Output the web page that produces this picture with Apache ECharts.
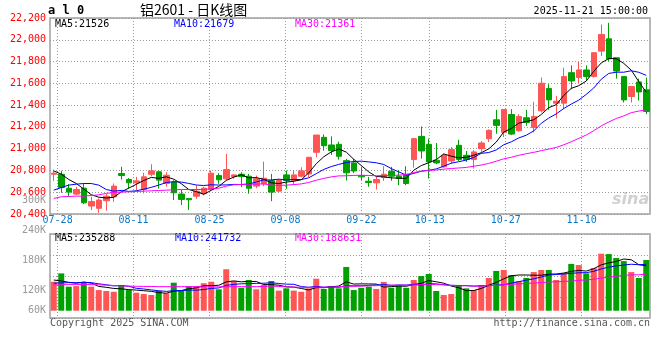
<!DOCTYPE html>
<html><head><meta charset="utf-8">
<script src="https://cdn.jsdelivr.net/npm/echarts@6/dist/echarts.min.js"></script>
<style>html,body{margin:0;padding:0;background:#fff}#c{width:660px;height:360px}</style>
</head><body><div id="c"></div>
<script>
const dates = ['07-25','07-28','07-29','07-30','07-31','08-01','08-04','08-05','08-06','08-07','08-08','08-11','08-12','08-13','08-14','08-15','08-18','08-19','08-20','08-21','08-22','08-25','08-26','08-27','08-28','08-29','09-01','09-02','09-03','09-04','09-05','09-08','09-09','09-10','09-11','09-12','09-15','09-16','09-17','09-18','09-19','09-22','09-23','09-24','09-25','09-26','09-29','09-30','10-09','10-10','10-13','10-14','10-15','10-16','10-17','10-20','10-21','10-22','10-23','10-24','10-27','10-28','10-29','10-30','10-31','11-03','11-04','11-05','11-06','11-07','11-10','11-11','11-12','11-13','11-14','11-17','11-18','11-19','11-20','11-21'];
const labelDates = ['07-28','08-11','08-25','09-08','09-22','10-13','10-27','11-10'];

const opens  = [20765,20765,20637,20583,20637,20473,20452,20522,20558,20772,20717,20686,20625,20765,20787,20680,20695,20583,20543,20564,20586,20625,20753,20723,20744,20765,20747,20656,20677,20707,20610,20759,20707,20747,20768,20967,21104,21034,21040,20890,20869,20753,20701,20686,20735,20793,20747,20765,20900,21113,21040,20894,20833,20887,21031,20939,20900,21000,21091,21265,21150,21314,21165,21284,21195,21348,21552,21418,21418,21698,21653,21723,21662,21896,22009,21835,21662,21479,21613,21540];
const closes = [20775,20643,20601,20625,20503,20515,20528,20564,20656,20753,20686,20704,20741,20796,20711,20756,20595,20534,20531,20610,20637,20775,20714,20808,20759,20744,20637,20723,20729,20601,20707,20707,20759,20796,20921,21125,21027,20982,20930,20778,20795,20741,20689,20717,20765,20747,20726,20680,21092,20979,20878,20869,20939,20991,20900,20900,20970,21052,21168,21214,21360,21134,21296,21241,21296,21601,21448,21436,21662,21622,21723,21662,21881,22049,21826,21713,21448,21570,21521,21342];
const lows   = [20704,20595,20564,20573,20491,20436,20412,20430,20512,20717,20634,20619,20589,20747,20634,20650,20528,20482,20436,20540,20570,20616,20677,20708,20723,20647,20586,20637,20656,20518,20601,20631,20668,20738,20738,20921,20982,20942,20900,20708,20775,20711,20650,20625,20705,20705,20665,20665,20826,20909,20726,20857,20826,20863,20887,20878,20817,20970,21061,21137,21107,21125,21156,21210,21150,21332,21357,21278,21363,21546,21601,21622,21653,21851,21805,21643,21424,21424,21442,21317];
const highs  = [20808,20796,20674,20650,20680,20558,20543,20583,20680,20833,20730,20741,20778,20857,20796,20784,20710,20620,20543,20665,20650,20799,20775,20951,20765,20783,20768,20753,20881,20768,20723,20799,20799,20829,20921,21125,21131,21113,21064,20906,20906,20833,20741,20741,20839,20833,20802,20839,21092,21204,21092,21052,20954,21015,21082,20979,20985,21070,21177,21357,21360,21363,21317,21357,21430,21653,21592,21485,21744,21765,21796,21765,21887,22140,22155,21835,21662,21570,21643,21653];
const volumes = [153,197,127,130,148,127,109,104,100,136,109,95,88,83,104,92,148,104,130,130,145,153,113,219,157,121,162,113,136,157,106,118,106,100,118,169,115,130,118,231,109,121,127,115,152,121,136,121,162,183,194,104,83,88,136,118,109,136,173,210,215,188,157,173,204,215,215,162,199,247,241,197,225,301,299,278,262,204,173,268];

// moving-average values for the days before enough history is on screen
const ma5Head  = [20796,20766,20717,20680];
const ma10Head = [20619,20643,20665,20674,20680,20680,20665,20625,20610];
const ma30Head = [20543,20558,20561,20564,20564,20570,20576,20589,20598,20601,20604,20607,20610,20613,20616,20619,20622,20625,20625,20625,20625,20631,20637,20656,20668,20671,20674,20674,20677];
const volMa5Head  = [162,157,150,145];
const volMa10Head = [145,147,148,148,150,148,142,137,131];
const volMa30Head = [136,137,138,138,139,138,137,135,133,131,130,129,128,128,127,127,127,127,127,127,126,126,126,126,127,127,127,127,128];

const mainYTicks = [20400,22200,200];
const volTickLabels = ['300K','240K','180K','120K','60K'];
const volTickValues = [300,240,180,120,81];

const titleCode = 'a l 0';
const titleText = '铝2601 - 日K线图';
const stamp = '2025-11-21 15:00:00';
const mainLegend = ['MA5:21526','MA10:21679','MA30:21361'];
const volLegend = ['MA5:235288','MA10:241732','MA30:188631'];
const footLeft = 'Copyright 2025 SINA.COM';
const footRight = 'http://finance.sina.com.cn';

const RED = '#ff5555', GREEN = '#00a000';
const MA_COLORS = ['#000000','#0000ff','#ff00ff'];
const MONO = "'DejaVu Sans Mono', monospace";

function ma(vals, n, head) {
  return vals.map((v, i) => {
    if (i < n - 1) return head[i];
    let s = 0; for (let k = i - n + 1; k <= i; k++) s += vals[k];
    return +(s / n).toFixed(1);
  });
}

const candleData = opens.map((o, i) => [o, closes[i], lows[i], highs[i]]);
const upFlags = opens.map((o, i) => closes[i] >= o);

const chart = echarts.init(document.getElementById('c'), null, {renderer: 'canvas'});
const dotted = {type: [1, 2], color: '#9a9a9a', width: 1};
const isLabelDate = (idx, val) => labelDates.indexOf(val) >= 0;

const option = {
  animation: false,
  backgroundColor: '#ffffff',
  grid: [
    {left: 50, right: 10, top: 18, height: 196, show: true, borderColor: '#a0a0a0', borderWidth: 1.5},
    {left: 50, right: 10, top: 234, height: 84, show: true, borderColor: '#a0a0a0', borderWidth: 1.5},
    {left: 50, right: 10, top: 190, height: 130, show: false}
  ],
  xAxis: [
    {type: 'category', gridIndex: 0, data: dates, boundaryGap: true, show: false, position: 'bottom'},
    {type: 'category', gridIndex: 0, data: dates, boundaryGap: false, position: 'bottom', axisLine: {show: false}, axisTick: {show: false},
      axisLabel: {show: true, interval: isLabelDate, color: '#0a78c8', fontFamily: MONO, fontSize: 10, margin: 1},
      splitLine: {show: true, interval: isLabelDate, lineStyle: dotted}},
    {type: 'category', gridIndex: 1, data: dates, boundaryGap: true, show: false, position: 'bottom'},
    {type: 'category', gridIndex: 1, data: dates, boundaryGap: false, position: 'bottom', axisLine: {show: false}, axisTick: {show: false}, axisLabel: {show: false},
      splitLine: {show: true, interval: isLabelDate, lineStyle: dotted}},
    {type: 'category', gridIndex: 2, data: dates, show: false}
  ],
  yAxis: [
    {type: 'value', gridIndex: 0, min: mainYTicks[0], max: mainYTicks[1], interval: mainYTicks[2],
      axisLine: {show: false}, axisTick: {show: false},
      axisLabel: {color: '#ff0000', fontFamily: MONO, fontSize: 10, margin: 4, padding: [0, 0, 3, 0]},
      splitLine: {show: true, lineStyle: dotted}},
    {type: 'value', gridIndex: 1, min: -38.5, max: 405, show: false},
    {type: 'value', gridIndex: 1, min: 0, max: 4, interval: 1, axisLine: {show: false}, axisTick: {show: false}, axisLabel: {show: false}, splitLine: {show: true, lineStyle: dotted}},
    {type: 'value', gridIndex: 2, min: 61.2, max: 321.2, axisLine: {show: false}, axisTick: {show: false}, splitLine: {show: false},
      axisLabel: {show: true, customValues: volTickValues, color: '#999999', fontFamily: MONO, fontSize: 10, margin: 4,
        formatter: v => volTickLabels[volTickValues.indexOf(v)] || ''}}
  ],
  series: [
    {type: 'candlestick', xAxisIndex: 0, yAxisIndex: 0, data: candleData, barWidth: 6,
      itemStyle: {color: RED, color0: GREEN, borderColor: RED, borderColor0: GREEN, borderWidth: 1}},
    {type: 'line', xAxisIndex: 0, yAxisIndex: 0, data: ma(closes, 5, ma5Head), showSymbol: false, lineStyle: {color: MA_COLORS[0], width: 1}, z: 5},
    {type: 'line', xAxisIndex: 0, yAxisIndex: 0, data: ma(closes, 10, ma10Head), showSymbol: false, lineStyle: {color: MA_COLORS[1], width: 1}, z: 5},
    {type: 'line', xAxisIndex: 0, yAxisIndex: 0, data: ma(closes, 30, ma30Head), showSymbol: false, lineStyle: {color: MA_COLORS[2], width: 1}, z: 5},
    {type: 'bar', xAxisIndex: 2, yAxisIndex: 1, barWidth: 6,
      data: volumes.map((v, i) => ({value: v, itemStyle: {color: upFlags[i] ? RED : GREEN}}))},
    {type: 'line', xAxisIndex: 2, yAxisIndex: 1, data: ma(volumes, 5, volMa5Head), showSymbol: false, lineStyle: {color: MA_COLORS[0], width: 1}, z: 5},
    {type: 'line', xAxisIndex: 2, yAxisIndex: 1, data: ma(volumes, 10, volMa10Head), showSymbol: false, lineStyle: {color: MA_COLORS[1], width: 1}, z: 5},
    {type: 'line', xAxisIndex: 2, yAxisIndex: 1, data: ma(volumes, 30, volMa30Head), showSymbol: false, lineStyle: {color: MA_COLORS[2], width: 1}, z: 5}
  ],
  graphic: [
    {type: 'text', left: 48, top: 5, style: {text: titleCode, font: "bold 12px 'DejaVu Sans Mono'", fill: '#000'}},
    {type: 'text', left: 140, top: 3, style: {text: titleText, font: "14px 'Noto Sans CJK SC'", fill: '#000'}},
    {type: 'text', right: 12, top: 6, style: {text: stamp, font: "10px 'DejaVu Sans Mono'", fill: '#000'}},
    {type: 'text', left: 55, top: 19, style: {text: mainLegend[0], font: "10px 'DejaVu Sans Mono'", fill: MA_COLORS[0]}},
    {type: 'text', left: 174, top: 19, style: {text: mainLegend[1], font: "10px 'DejaVu Sans Mono'", fill: MA_COLORS[1]}},
    {type: 'text', left: 295, top: 19, style: {text: mainLegend[2], font: "10px 'DejaVu Sans Mono'", fill: MA_COLORS[2]}},
    {type: 'text', left: 55, top: 233, style: {text: volLegend[0], font: "10px 'DejaVu Sans Mono'", fill: MA_COLORS[0]}},
    {type: 'text', left: 175, top: 233, style: {text: volLegend[1], font: "10px 'DejaVu Sans Mono'", fill: MA_COLORS[1]}},
    {type: 'text', left: 295, top: 233, style: {text: volLegend[2], font: "10px 'DejaVu Sans Mono'", fill: MA_COLORS[2]}},
    {type: 'text', left: 50, top: 318, style: {text: footLeft, font: "10px 'DejaVu Sans Mono'", fill: '#555'}},
    {type: 'text', right: 10, top: 318, style: {text: footRight, font: "10px 'DejaVu Sans Mono'", fill: '#555'}},
    {type: 'text', left: 612, top: 192, style: {text: 'sina', font: "italic bold 16px 'DejaVu Sans'", fill: 'rgba(150,150,150,0.45)'}}
  ]
};
chart.setOption(option);
</script></body></html>
